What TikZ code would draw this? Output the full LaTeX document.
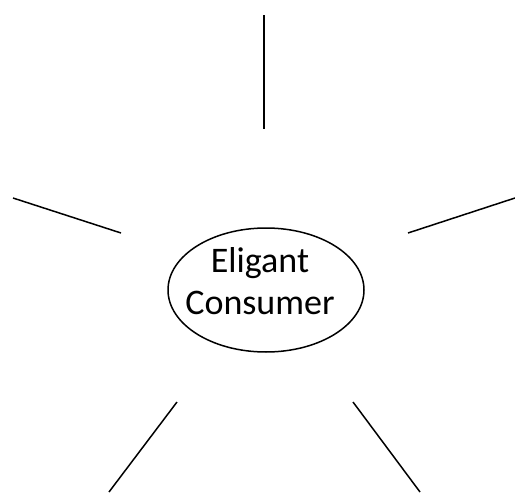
\documentclass[tikz,border=0pt]{standalone}
\usepackage{fontspec}
\setmainfont{Carlito}
\usetikzlibrary{shapes.geometric}
\tikzset{
  hub/.style={ellipse, draw=black, line width=1.5pt, minimum width=196pt, minimum height=124pt, inner sep=0pt},
  hubtext/.style={font=\fontsize{36}{42}\selectfont, inner sep=0pt, align=center},
  spoke/.style={line width=1.5pt, draw=black},
}
\begin{document}
\begin{tikzpicture}[x=1pt, y=-1pt]
      \useasboundingbox (0,0) rectangle (515,493);
      \node[hub] (cons) at (266,290) {};
      \node[hubtext] (lbl) at ([xshift=-6pt, yshift=9pt]cons.center) {Eligant\\Consumer};
      \coordinate (t1) at (264,15);   \coordinate (t2) at (264,129);
      \coordinate (l1) at (13,198);   \coordinate (l2) at (121,233);
      \coordinate (r1) at (408,233);  \coordinate (r2) at (515,198);
      \coordinate (bl1) at (109,492); \coordinate (bl2) at (177,402);
      \coordinate (br1) at (353,402); \coordinate (br2) at (420,492);
      \draw[spoke] (t1) -- (t2);
      \draw[spoke] (l1) -- (l2);
      \draw[spoke] (r1) -- (r2);
      \draw[spoke] (bl1) -- (bl2);
      \draw[spoke] (br1) -- (br2);
    \end{tikzpicture}
\end{document}
